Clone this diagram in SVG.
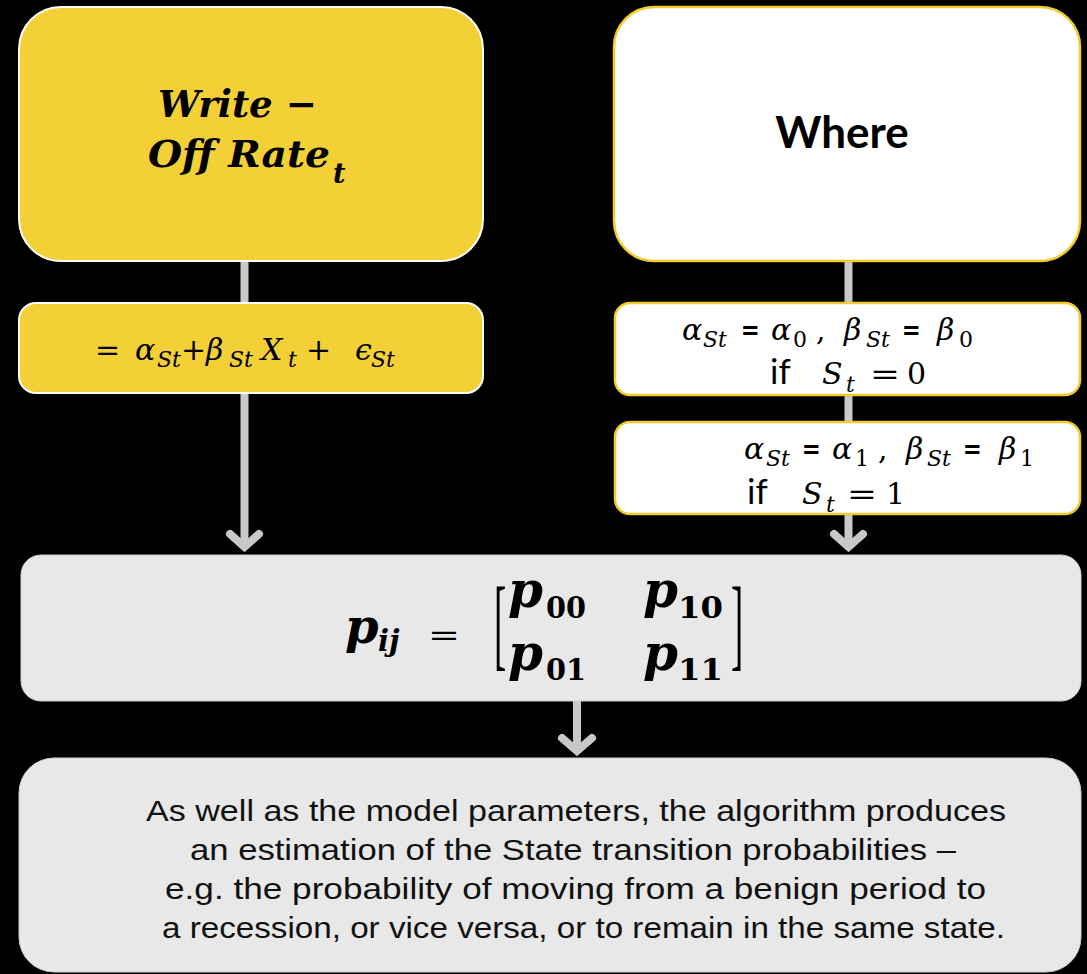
<svg xmlns="http://www.w3.org/2000/svg" width="1087" height="974" viewBox="0 0 1087 974">
<defs>
<style>
.bg{fill:#000}
.ybox{fill:#F4D037;stroke:#FFFFFF;stroke-width:2}
.wbox{fill:#FFFFFF;stroke:#F2CC2A;stroke-width:2.5}
.gbox{fill:#E8E8E8;stroke:#D0D0D0;stroke-width:1}
.conn{stroke:#C8C8C8;stroke-width:8;fill:none}
.head{stroke:#C8C8C8;stroke-width:8;fill:none;stroke-linecap:round;stroke-linejoin:miter}
.m{font-family:"DejaVu Serif",serif;font-style:italic;font-size:30px;fill:#000}
.s{font-size:22px}
.up{font-style:normal}
.bm{font-family:"DejaVu Serif",serif;font-style:italic;font-weight:bold;fill:#000}
.bd{font-family:"DejaVu Serif",serif;font-weight:bold;fill:#000}
.sans{font-family:Lato,"Liberation Sans",sans-serif;fill:#000}
.body{font-family:"Liberation Sans",Arial,sans-serif;font-size:30px;fill:#111}
</style>
</defs>
<rect class="bg" x="0" y="0" width="1087" height="974"/>

<g id="connectors">
<line class="conn" x1="244.5" y1="260" x2="244.5" y2="304"/>
<line class="conn" x1="244.5" y1="392" x2="244.5" y2="546"/>
<polyline class="head" points="230,534 244.5,547 259,534"/>
<line class="conn" x1="848.5" y1="260" x2="848.5" y2="304"/>
<line class="conn" x1="848.5" y1="394" x2="848.5" y2="423"/>
<line class="conn" x1="848.5" y1="512" x2="848.5" y2="546"/>
<polyline class="head" points="834,534 848.5,547 863,534"/>
<line class="conn" x1="577" y1="701" x2="577" y2="750"/>
<polyline class="head" points="562,738 577,751 592,738"/>
</g>

<g id="writeoff">
<rect class="ybox" x="19" y="7" width="464" height="254" rx="42"/>
<text class="bm" x="158" y="117" font-size="38" textLength="159" lengthAdjust="spacingAndGlyphs">Write −</text>
<text class="bm" x="148" y="167" font-size="38" textLength="182" lengthAdjust="spacingAndGlyphs">Off Rate</text>
<text class="bm" x="333" y="183" font-size="27">t</text>
</g>

<g id="equation">
<rect class="ybox" x="19" y="303" width="464" height="90" rx="17"/>
<text class="m up" x="95" y="360">=</text>
<text class="m" x="135" y="360">α</text>
<text class="m s" x="157" y="367">St</text>
<text class="m up" x="181" y="360">+</text>
<text class="m" x="206" y="360">β</text>
<text class="m s" x="229" y="367">St</text>
<text class="m" x="261" y="360">X</text>
<text class="m s" x="288" y="367">t</text>
<text class="m up" x="306" y="360">+</text>
<text class="m" x="355" y="360">ϵ</text>
<text class="m s" x="371" y="367">St</text>
</g>

<g id="where">
<rect class="wbox" x="614" y="7" width="466" height="254" rx="40"/>
<text class="sans" x="842" y="148" font-size="44" font-weight="bold" text-anchor="middle">Where</text>
</g>

<g id="state0">
<rect class="wbox" x="615" y="303" width="465" height="92" rx="15"/>
<text class="m" x="682" y="340">α</text>
<text class="m s" x="703" y="347">St</text>
<text class="sans" x="741" y="342" font-size="32" font-weight="bold">=</text>
<text class="m" x="771" y="340">α</text>
<text class="m s up" x="793" y="347">0</text>
<text class="m up" x="816" y="340">,</text>
<text class="m" x="844" y="340">β</text>
<text class="m s" x="866" y="347">St</text>
<text class="sans" x="902" y="342" font-size="32" font-weight="bold">=</text>
<text class="m" x="937" y="340">β</text>
<text class="m s up" x="959" y="347">0</text>
<text class="sans" x="770" y="384" font-size="35">if</text>
<text class="m" x="822" y="384" font-size="32">S</text>
<text class="m s" x="846" y="392">t</text>
<text class="m up" x="870" y="384" font-size="32" textLength="30" lengthAdjust="spacingAndGlyphs">=</text>
<text class="m up" x="907" y="384" font-size="34">0</text>
</g>

<g id="state1">
<rect class="wbox" x="615" y="422" width="465" height="92" rx="15"/>
<text class="m" x="744" y="459">α</text>
<text class="m s" x="766" y="466">St</text>
<text class="sans" x="802" y="461" font-size="32" font-weight="bold">=</text>
<text class="m" x="832" y="459">α</text>
<text class="m s up" x="855" y="466">1</text>
<text class="m up" x="878" y="459">,</text>
<text class="m" x="906" y="459">β</text>
<text class="m s" x="927" y="466">St</text>
<text class="sans" x="963" y="461" font-size="32" font-weight="bold">=</text>
<text class="m" x="999" y="459">β</text>
<text class="m s up" x="1020" y="466">1</text>
<text class="sans" x="747" y="504" font-size="35">if</text>
<text class="m" x="802" y="504" font-size="32">S</text>
<text class="m s" x="826" y="512">t</text>
<text class="m up" x="847" y="504" font-size="32" textLength="30" lengthAdjust="spacingAndGlyphs">=</text>
<text class="m up" x="886" y="504" font-size="34">1</text>
</g>

<g id="matrix">
<rect class="gbox" x="21" y="555" width="1060" height="146" rx="20"/>
<text class="bm" x="345" y="643" font-size="48">p</text>
<text class="bm" x="378" y="651" font-size="29">ij</text>
<text class="m up" x="428" y="645" font-size="40" textLength="32" lengthAdjust="spacingAndGlyphs">=</text>
<text font-family="Liberation Serif,serif" font-size="102" transform="translate(494 0) scale(0.36 1)" x="0" y="657">[</text>
<text class="bm" x="508" y="607" font-size="50">p</text>
<text class="bd" x="546" y="618" font-size="29" textLength="40" lengthAdjust="spacingAndGlyphs">00</text>
<text class="bm" x="643" y="607" font-size="50">p</text>
<text class="bd" x="678" y="618" font-size="29" textLength="45" lengthAdjust="spacingAndGlyphs">10</text>
<text class="bm" x="508" y="670" font-size="50">p</text>
<text class="bd" x="546" y="680" font-size="29" textLength="40" lengthAdjust="spacingAndGlyphs">01</text>
<text class="bm" x="643" y="670" font-size="50">p</text>
<text class="bd" x="678" y="680" font-size="29" textLength="45" lengthAdjust="spacingAndGlyphs">11</text>
<text font-family="Liberation Serif,serif" font-size="102" transform="translate(731 0) scale(0.36 1)" x="0" y="657">]</text>
</g>

<g id="summary">
<rect class="gbox" x="19" y="758" width="1062" height="214" rx="35"/>
<text class="body" x="146" y="821" textLength="860" lengthAdjust="spacingAndGlyphs">As well as the model parameters, the algorithm produces</text>
<text class="body" x="190" y="860" textLength="766" lengthAdjust="spacingAndGlyphs">an estimation of the State transition probabilities –</text>
<text class="body" x="165" y="899" textLength="821" lengthAdjust="spacingAndGlyphs">e.g. the probability of moving from a benign period to</text>
<text class="body" x="162" y="938" textLength="843" lengthAdjust="spacingAndGlyphs">a recession, or vice versa, or to remain in the same state.</text>
</g>
</svg>
